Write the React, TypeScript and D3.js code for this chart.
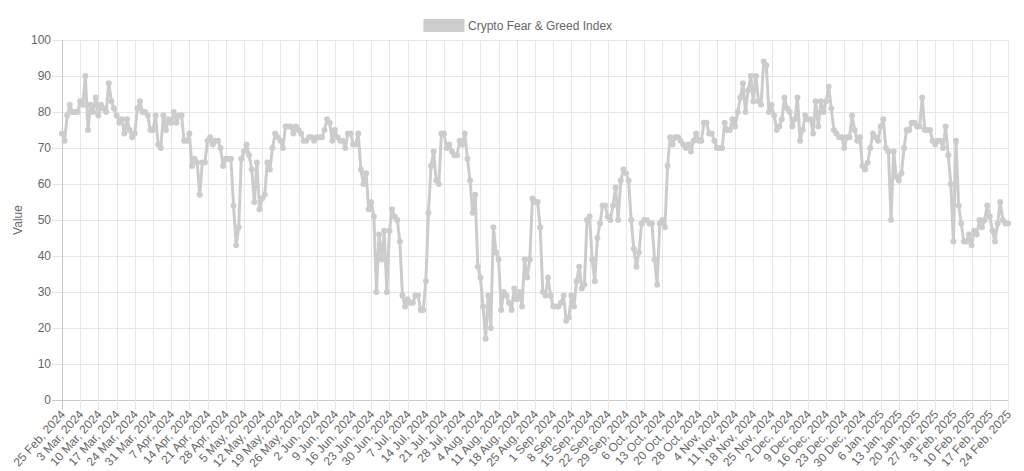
import React from "react";
import * as d3 from "d3";

const seriesName = "Crypto Fear & Greed Index";
const yAxisTitle = "Value";
const startDate = "2024-02-25";
const endDate = "2025-02-24";
const missingDates = ["2024-10-24"];
const yTicks = [0, 10, 20, 30, 40, 50, 60, 70, 80, 90, 100];

const fearGreed = [
  74, 72, 79, 82, 80, 80, 80, 83, 82, 90,
  75, 82, 80, 84, 79, 82, 81, 80, 88, 83,
  81, 79, 77, 78, 74, 78, 75, 73, 74, 81,
  83, 80, 80, 79, 75, 75, 79, 71, 70, 79,
  75, 78, 77, 80, 77, 79, 79, 72, 72, 74,
  65, 67, 66, 57, 66, 66, 72, 73, 71, 72,
  72, 70, 65, 67, 67, 67, 54, 43, 48, 67,
  69, 71, 68, 64, 55, 66, 53, 56, 57, 66,
  64, 70, 74, 73, 72, 70, 76, 76, 76, 74,
  76, 75, 74, 72, 72, 73, 73, 72, 73, 73,
  73, 75, 78, 77, 72, 75, 73, 72, 72, 70,
  74, 74, 71, 71, 74, 64, 60, 63, 53, 55,
  51, 30, 46, 39, 47, 30, 47, 53, 51, 50,
  44, 29, 26, 28, 27, 27, 29, 29, 25, 25,
  33, 52, 65, 69, 61, 60, 74, 74, 70, 71,
  69, 68, 68, 72, 71, 74, 67, 61, 52, 57,
  37, 34, 26, 17, 29, 20, 48, 41, 39, 25,
  30, 29, 27, 25, 31, 28, 30, 26, 39, 34,
  39, 56, 55, 55, 48, 30, 29, 34, 29, 26,
  26, 26, 27, 29, 22, 23, 29, 26, 33, 37,
  31, 32, 50, 51, 39, 33, 45, 49, 54, 54,
  51, 50, 54, 59, 50, 61, 64, 63, 61, 50,
  42, 37, 41, 49, 50, 50, 49, 49, 39, 32,
  49, 50, 48, 65, 73, 71, 73, 73, 72, 71,
  70, 71, 69, 72, 74, 72, 72, 77, 77, 74,
  74, 72, 70, 70, 70, 77, 75, 75, 78, 76,
  80, 84, 88, 80, 86, 90, 83, 90, 83, 82,
  94, 93, 80, 82, 79, 75, 76, 78, 84, 81,
  80, 76, 78, 84, 72, 75, 79, 78, 78, 74,
  83, 76, 83, 80, 83, 87, 81, 75, 74, 73,
  73, 70, 73, 73, 79, 75, 72, 73, 65, 64,
  66, 70, 74, 73, 72, 76, 78, 70, 69, 50,
  69, 62, 61, 63, 70, 75, 75, 77, 77, 76,
  76, 84, 75, 75, 75, 72, 71, 72, 72, 70,
  76, 68, 60, 44, 72, 54, 49, 44, 44, 46,
  43, 47, 46, 50, 48, 50, 54, 51, 47, 44,
  49, 55, 50, 49, 49,
];

const parse = d3.timeParse("%Y-%m-%d");
const fmtKey = d3.timeFormat("%Y-%m-%d");
const fmtLabel = d3.timeFormat("%-d %b, %Y");

const allDates = d3
  .timeDay.range(parse(startDate) as Date, d3.timeDay.offset(parse(endDate) as Date, 1))
  .filter((d) => !missingDates.includes(fmtKey(d)));
const labels = allDates.map((d) => fmtLabel(d));

const W = 1024;
const H = 471;
const M = { left: 62, right: 1008, top: 40, bottom: 400 };
const FONT = "'Liberation Sans', Arial, Helvetica, sans-serif";
const TEXT = "#666";
const GRID = "#e6e6e6";
const LINE = "#cccccc";
const LABEL_ROT = 48;

export default function App() {
  const n = Math.min(labels.length, fearGreed.length);
  const cats = labels.slice(0, n);
  const data = fearGreed.slice(0, n);
  const x = d3.scalePoint<string>().domain(cats).range([M.left, M.right]).padding(0);
  const y = d3.scaleLinear().domain([0, 100]).range([M.bottom, M.top]);
  const xTicks = cats.filter((_, i) => i % 7 === 0);
  const line = d3
    .line<number>()
    .x((_, i) => x(cats[i]) as number)
    .y((d) => y(d))
    .curve(d3.curveLinear);

  return (
    <svg
      width={W}
      height={H}
      style={{ position: "absolute", left: 0, top: 0, background: "#fff" }}
      fontFamily={FONT}
    >
      {/* legend */}
      <rect x={424} y={19.5} width={40} height={12} fill={LINE} stroke={LINE} strokeWidth={1} />
      <text x={468} y={25.5} fontSize={12} fill={TEXT} dominantBaseline="central">
        {seriesName}
      </text>

      {/* horizontal grid + y ticks */}
      {yTicks.map((t) => (
        <g key={"y" + t}>
          <line
            x1={M.left - 10}
            x2={M.right}
            y1={Math.round(y(t)) + 0.5}
            y2={Math.round(y(t)) + 0.5}
            stroke={t === 0 ? "#c8c8c8" : GRID}
            strokeWidth={1}
          />
          <text
            x={M.left - 11}
            y={y(t)}
            fontSize={12}
            fill={TEXT}
            textAnchor="end"
            dominantBaseline="central"
          >
            {t}
          </text>
        </g>
      ))}

      {/* vertical grid + x ticks */}
      {xTicks.map((c, i) => {
        const xx = Math.round(x(c) as number) + 0.5;
        return (
          <g key={"x" + c}>
            <line
              x1={xx}
              x2={xx}
              y1={M.top}
              y2={M.bottom + 10}
              stroke={i === 0 ? "#c8c8c8" : GRID}
              strokeWidth={1}
            />
            <text
              transform={`translate(${(x(c) as number) + 1},${M.bottom + 12}) rotate(-${LABEL_ROT})`}
              fontSize={12}
              fill={TEXT}
              textAnchor="end"
              dominantBaseline="central"
            >
              {c}
            </text>
          </g>
        );
      })}

      {/* y axis title */}
      <text
        transform={`translate(18,${(M.top + M.bottom) / 2}) rotate(-90)`}
        fontSize={12}
        fill={TEXT}
        textAnchor="middle"
        dominantBaseline="central"
      >
        {yAxisTitle}
      </text>

      {/* series */}
      <path d={line(data) || ""} fill="none" stroke={LINE} strokeWidth={3} strokeLinejoin="round" />
      {data.map((v, i) => (
        <circle key={"p" + i} cx={x(cats[i]) as number} cy={y(v)} r={3} fill={LINE} />
      ))}
    </svg>
  );
}
